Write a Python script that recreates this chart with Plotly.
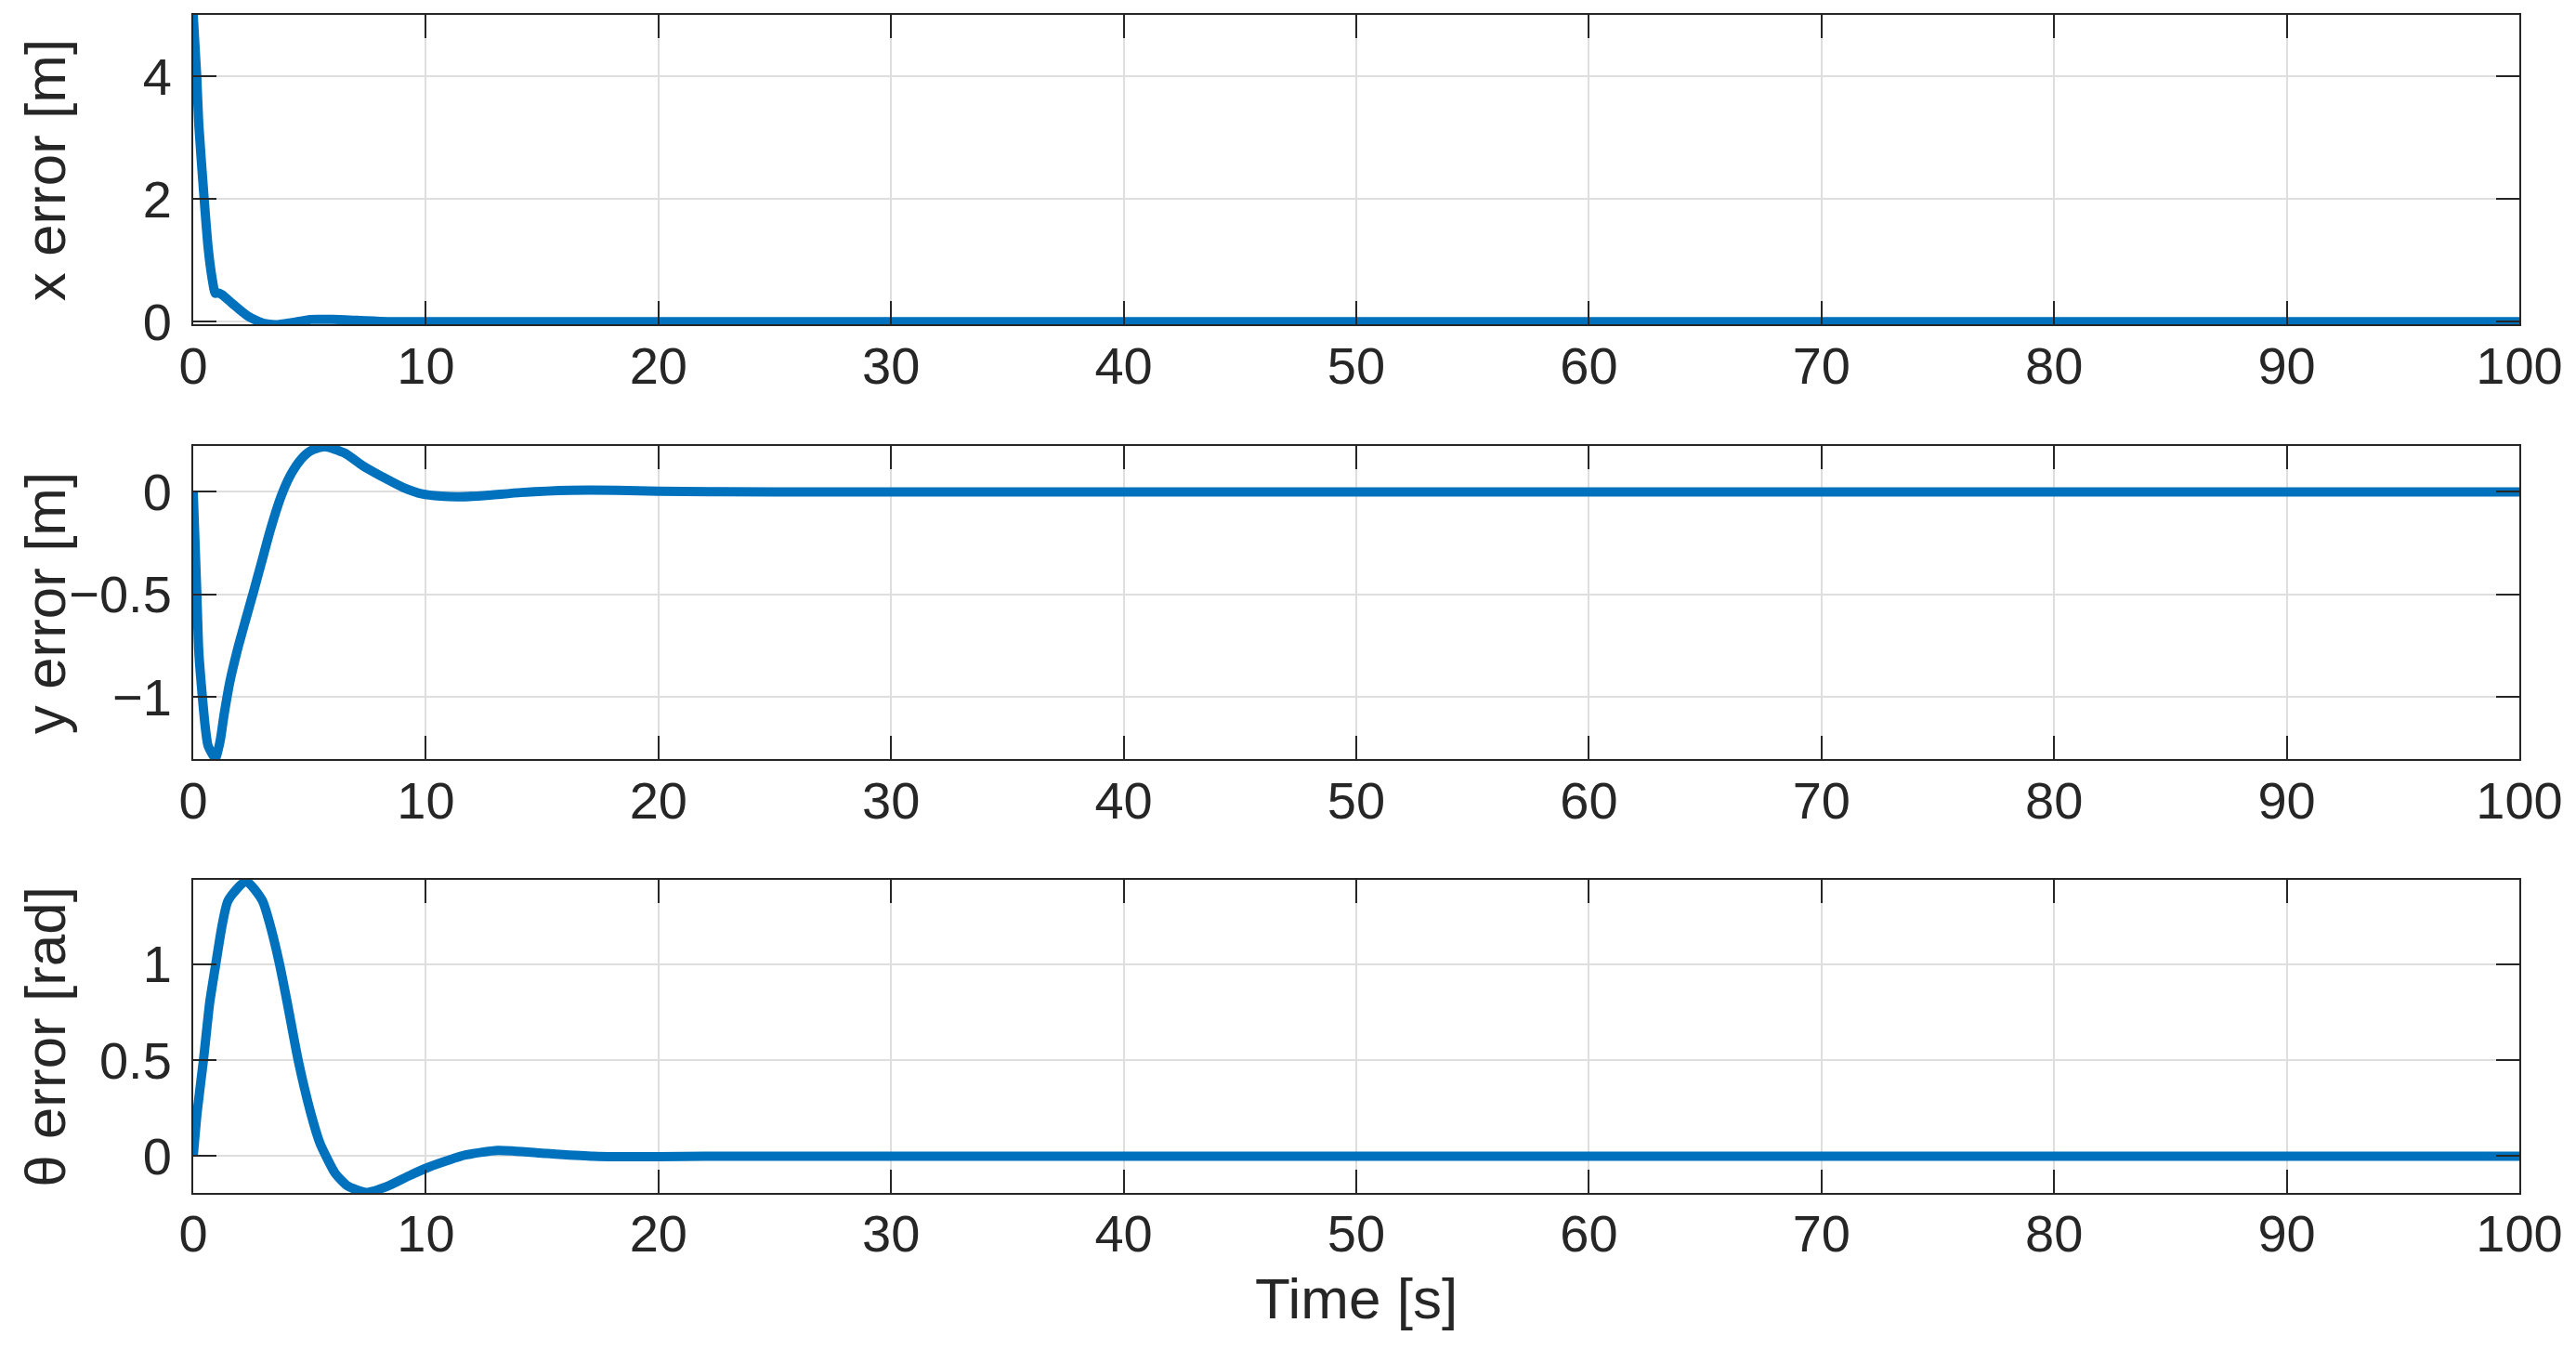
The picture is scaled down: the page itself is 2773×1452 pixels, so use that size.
import plotly.graph_objects as go

# values
t_x = [0, 0.15, 0.24, 0.47, 0.64, 0.81, 0.95, 1.05, 1.24, 1.71, 2.37, 3.04, 3.57, 4.24,
       5.04, 5.97, 7.04, 8.37, 10, 20, 40, 60, 80, 100]
x_err = [5.0, 4.0, 3.21, 2.0, 1.21, 0.71, 0.46, 0.47, 0.44, 0.285, 0.085, -0.03, -0.05, -0.015,
         0.035, 0.035, 0.02, 0.0, 0.0, 0.0, 0.0, 0.0, 0.0, 0.0]

t_y = [0, 0.15, 0.24, 0.4, 0.53, 0.64, 0.95, 1.15, 1.33, 1.57, 1.88, 2.24, 2.61, 2.97, 3.33,
       3.77, 4.17, 4.64, 5.04, 5.64, 6.5, 7.3, 8.24, 9.04, 9.84, 10.64, 11.44, 12.5, 14.1, 16.2,
       18.2, 20, 25, 40, 60, 80, 100]
y_err = [0, -0.48, -0.78, -1.01, -1.16, -1.24, -1.30, -1.22, -1.085, -0.93, -0.78, -0.63,
         -0.48, -0.33, -0.18, -0.024, 0.08, 0.16, 0.2, 0.221, 0.19, 0.127, 0.067, 0.021, -0.01,
         -0.021, -0.024, -0.018, -0.003, 0.008, 0.008, 0.003, 0.0, 0.0, 0.0, 0.0, 0.0]

t_th = [0, 0.17, 0.44, 0.71, 0.97, 1.24, 1.5, 2.27, 2.97, 3.31, 3.71, 4.04, 4.51, 5.04, 5.44,
        5.71, 6.11, 6.64, 7.44, 8.37, 9.31, 10.1, 11.04, 11.7, 13.1, 15.2, 17.2, 20, 22, 30,
        50, 75, 100]
th_err = [0, 0.23, 0.5, 0.8, 1.0, 1.2, 1.33, 1.43, 1.33, 1.2, 1.0, 0.8, 0.5, 0.23, 0.07,
          0.0, -0.09, -0.155, -0.188, -0.155, -0.1, -0.058, -0.018, 0.006, 0.03, 0.014, 0.0,
          -0.003, 0.0, 0.0, 0.0, 0.0, 0.0]

x_ticks = list(range(0, 101, 10))
y_ticks = [[0, 2, 4], [-1, -0.5, 0], [0, 0.5, 1]]
y_ranges = [[-0.05, 5.0], [-1.306, 0.224], [-0.191, 1.439]]
y_titles = ["x error [m]", "y error [m]", "θ error [rad]"]

# subplot domains (paper fractions)
domains = [[0.737, 1.0], [0.368, 0.634], [0.0, 0.266]]

blue = "#0072BD"
ink = "#262626"
family = "Liberation Sans, Arial, Helvetica, sans-serif"
tick_font = dict(family=family, size=56, color=ink)
label_font = dict(family=family, size=62, color=ink)

fig = go.Figure()
series = [(t_x, x_err), (t_y, y_err), (t_th, th_err)]
for i, (t, v) in enumerate(series):
    sfx = "" if i == 0 else str(i + 1)
    fig.add_trace(go.Scatter(x=t, y=v, mode="lines", xaxis="x" + sfx, yaxis="y" + sfx,
                             line=dict(color=blue, width=10, shape="spline", smoothing=0.6),
                             showlegend=False))

axis_style = dict(showline=True, linecolor=ink, linewidth=2, mirror="ticks",
                  ticks="inside", ticklen=25, tickwidth=2, tickcolor=ink,
                  showgrid=True, gridcolor="#dedede", gridwidth=2, zeroline=False,
                  tickfont=tick_font)

# page body has an 8px margin, so the figure is a bit smaller than the window
layout = dict(width=2765, height=1444, plot_bgcolor="white", paper_bgcolor="white",
              margin=dict(l=200, r=61, t=6, b=168), font=tick_font)
annotations = []
for i in range(3):
    sfx = "" if i == 0 else str(i + 1)
    layout["xaxis" + sfx] = dict(axis_style, range=[0, 100], tickvals=x_ticks,
                                 anchor="y" + sfx, domain=[0, 1], ticklabelstandoff=-6)
    layout["yaxis" + sfx] = dict(axis_style, range=y_ranges[i], tickvals=y_ticks[i],
                                 anchor="x" + sfx, domain=domains[i], ticklabelstandoff=10)
    annotations.append(dict(text=y_titles[i], xref="paper", yref="paper", x=-0.0637,
                            y=sum(domains[i]) / 2, xanchor="center", yanchor="middle",
                            textangle=-90, showarrow=False, font=label_font))

annotations.append(dict(text="Time [s]", xref="paper", yref="paper", x=0.5, y=-0.0898,
                        xanchor="center", yanchor="middle", showarrow=False, font=label_font))
layout["annotations"] = annotations

fig.update_layout(layout)
fig.write_html("out.html")
